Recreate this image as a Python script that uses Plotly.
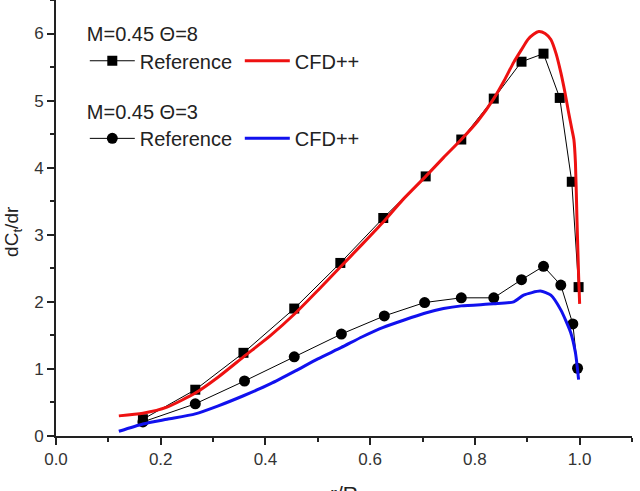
import plotly.graph_objects as go

# Reference data, Theta = 8
ref8_x = [0.166, 0.266, 0.358, 0.455, 0.543, 0.625, 0.706, 0.774, 0.836, 0.889, 0.931, 0.962, 0.985, 0.998]
ref8_y = [0.25, 0.69, 1.24, 1.90, 2.58, 3.25, 3.87, 4.42, 5.03, 5.58, 5.70, 5.04, 3.79, 2.22]

# Reference data, Theta = 3
ref3_x = [0.166, 0.266, 0.360, 0.455, 0.545, 0.627, 0.704, 0.774, 0.836, 0.889, 0.931, 0.964, 0.987, 0.996]
ref3_y = [0.21, 0.48, 0.82, 1.18, 1.52, 1.79, 1.99, 2.06, 2.06, 2.33, 2.53, 2.25, 1.67, 1.01]

# CFD++ Theta = 8
cfd8_x = [0.12, 0.166, 0.212, 0.266, 0.31, 0.358, 0.41, 0.457, 0.50, 0.543, 0.585, 0.625, 0.662,
          0.706, 0.74, 0.774, 0.806, 0.836, 0.856, 0.874, 0.889, 0.901, 0.912, 0.922, 0.934,
          0.945, 0.955, 0.964, 0.972, 0.979, 0.985, 0.989, 0.992, 0.995, 0.998, 1.0]
cfd8_y = [0.30, 0.34, 0.43, 0.64, 0.88, 1.18, 1.50, 1.83, 2.17, 2.52, 2.86, 3.19, 3.52,
          3.87, 4.15, 4.42, 4.70, 5.03, 5.30, 5.57, 5.76, 5.91, 5.99, 6.03, 6.00,
          5.91, 5.70, 5.42, 5.12, 4.82, 4.58, 4.42, 4.07, 3.20, 2.40, 1.97]

# CFD++ Theta = 3
cfd3_x = [0.12, 0.166, 0.212, 0.266, 0.31, 0.358, 0.41, 0.457, 0.50, 0.545, 0.585, 0.625, 0.665,
          0.704, 0.74, 0.774, 0.836, 0.874, 0.893, 0.925, 0.945, 0.964, 0.983, 0.992, 0.998]
cfd3_y = [0.07, 0.18, 0.25, 0.33, 0.45, 0.60, 0.78, 0.97, 1.15, 1.32, 1.48, 1.62, 1.73,
          1.83, 1.90, 1.94, 1.97, 2.00, 2.10, 2.16, 2.10, 1.88, 1.54, 1.24, 0.84]

FONT = "Liberation Sans, Arial, sans-serif"

fig = go.Figure()
fig.add_trace(go.Scatter(x=ref8_x, y=ref8_y, mode="lines+markers", name="Reference",
                         line=dict(color="black", width=1),
                         marker=dict(symbol="square", size=10, color="black"),
                         legend="legend"))
fig.add_trace(go.Scatter(x=cfd8_x, y=cfd8_y, mode="lines", name="CFD++",
                         line=dict(color="#ee1111", width=3, shape="spline", smoothing=0.6),
                         legend="legend"))
fig.add_trace(go.Scatter(x=ref3_x, y=ref3_y, mode="lines+markers", name="Reference",
                         line=dict(color="black", width=1),
                         marker=dict(symbol="circle", size=11, color="black"),
                         legend="legend2"))
fig.add_trace(go.Scatter(x=cfd3_x, y=cfd3_y, mode="lines", name="CFD++",
                         line=dict(color="#1111ee", width=3, shape="spline", smoothing=0.6),
                         legend="legend2"))

legend_common = dict(orientation="h", xanchor="left", yanchor="top",
                     font=dict(family=FONT, size=20, color="#222"),
                     bgcolor="rgba(0,0,0,0)", itemwidth=45, tracegroupgap=0,
                     entrywidth=95, entrywidthmode="pixels")

fig.update_layout(
    width=640, height=491,
    margin=dict(l=56, r=8, t=0, b=55, autoexpand=False),
    paper_bgcolor="white", plot_bgcolor="white",
    font=dict(family=FONT, size=17, color="#222"),
    legend=dict(title=dict(text="M=0.45 \u0398=8", side="top",
                           font=dict(family=FONT, size=20, color="#222")),
                x=0.05, y=0.965, **legend_common),
    legend2=dict(title=dict(text="M=0.45 \u0398=3", side="top",
                            font=dict(family=FONT, size=20, color="#222")),
                 x=0.05, y=0.787, **legend_common),
    xaxis=dict(range=[0, 1.1], dtick=0.2, tick0=0, tickformat=".1f", automargin=False,
               showline=True, linecolor="#222", linewidth=2, mirror=False,
               ticks="outside", ticklen=7, tickwidth=1.5, tickcolor="#222",
               minor=dict(dtick=0.1, ticks="outside", ticklen=4, tickwidth=1.5, tickcolor="#222"),
               showgrid=False, zeroline=False,
               tickfont=dict(family=FONT, size=17, color="#333")),
    yaxis=dict(range=[0, 6.5], dtick=1, tick0=0, automargin=False,
               showline=True, linecolor="#222", linewidth=2, mirror=False,
               ticks="outside", ticklen=7, tickwidth=1.5, tickcolor="#222",
               minor=dict(dtick=0.5, ticks="outside", ticklen=4, tickwidth=1.5, tickcolor="#222"),
               showgrid=False, zeroline=False,
               tickfont=dict(family=FONT, size=17, color="#333")),
    annotations=[
        dict(text="dC<sub>t</sub>/dr", textangle=-90, xref="paper", yref="paper",
             x=-0.075, y=0.47, showarrow=False, xanchor="center", yanchor="middle",
             font=dict(family=FONT, size=19, color="#222")),
        dict(text="r/R", xref="paper", yref="paper",
             x=0.5, y=-0.131, showarrow=False, xanchor="center", yanchor="middle",
             font=dict(family=FONT, size=21, color="#222")),
    ],
)

fig.write_html("out.html")
